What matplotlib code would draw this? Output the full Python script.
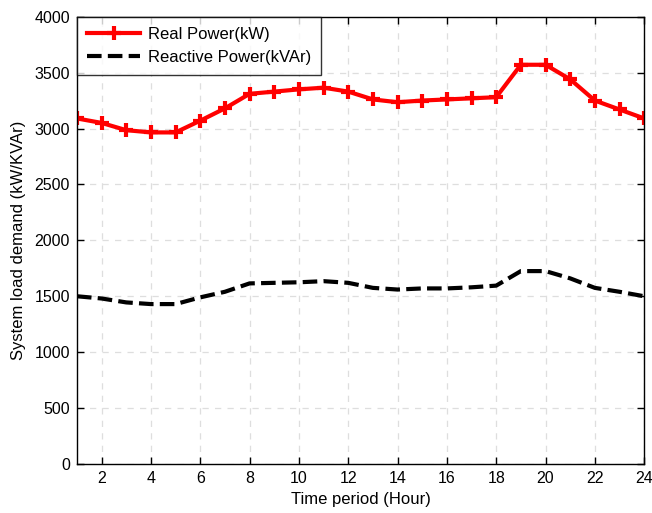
import matplotlib
matplotlib.use("Agg")
import matplotlib.pyplot as plt
import numpy as np

plt.rcParams["font.family"] = ["Liberation Sans", "DejaVu Sans"]

# Hourly system load
hours = np.arange(1, 25)
real_power = [3090, 3050, 2985, 2965, 2965, 3070, 3180, 3310, 3330, 3350, 3365, 3330,
              3260, 3235, 3250, 3260, 3270, 3280, 3570, 3570, 3440, 3250, 3170, 3090]
reactive_power = [1500, 1480, 1445, 1430, 1430, 1490, 1540, 1615, 1620, 1625, 1635, 1620,
                  1575, 1560, 1570, 1570, 1580, 1595, 1725, 1725, 1660, 1575, 1540, 1500]

x_ticks = np.arange(2, 25, 2)
y_ticks = np.arange(0, 4001, 500)

fig = plt.figure(figsize=(6.52, 5.13), dpi=100)
ax = fig.add_axes([0.118, 0.0955, 0.870, 0.872])

ax.plot(hours, real_power, color="red", linewidth=3, marker="+", markersize=10,
        markeredgewidth=3, label="Real Power(kW)")
ax.plot(hours, reactive_power, color="black", linewidth=3, linestyle=(0, (3.5, 1.5)),
        label="Reactive Power(kVAr)")

ax.set_xlim(1, 24)
ax.set_ylim(0, 4000)
ax.set_xticks(x_ticks)
ax.set_yticks(y_ticks)
ax.tick_params(direction="in", top=True, right=True, labelsize=11.5, length=5, width=1,
               pad=5)
ax.grid(True, color="#dedede", linestyle=(0, (5, 5)), linewidth=0.9)
for s in ax.spines.values():
    s.set_linewidth(1)

ax.set_xlabel("Time period (Hour)", fontsize=12, labelpad=4)
ax.set_ylabel("System load demand (kW/KVAr)", fontsize=12, labelpad=6)

leg = ax.legend(loc="upper left", fontsize=12, frameon=True, fancybox=False,
                borderaxespad=0, handlelength=3.2, handletextpad=0.45,
                borderpad=0.6, labelspacing=0.5)
leg.get_frame().set_edgecolor("black")
leg.get_frame().set_linewidth(1)

fig.savefig("out.png", dpi=100)
